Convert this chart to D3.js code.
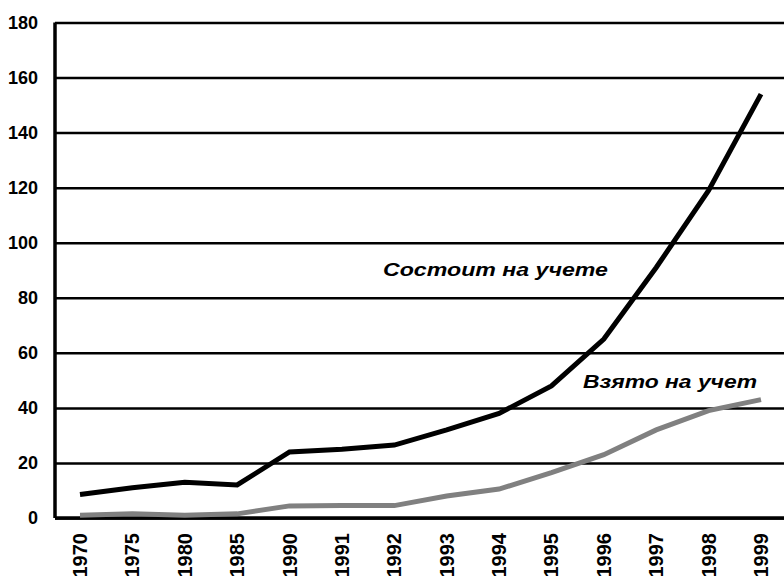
<!DOCTYPE html>
<html>
<head>
<meta charset="utf-8">
<script src="https://cdn.jsdelivr.net/npm/d3@7"></script>
<style>
  body { margin: 0; background: #fff; }
  svg { display: block; }
</style>
</head>
<body>
<div id="chart"></div>
<script>
var width  = 784;
var height = 576;

var years      = ["1970", "1975", "1980", "1985", "1990", "1991", "1992", "1993", "1994", "1995", "1996", "1997", "1998", "1999"];
var registered = [8.5, 11, 13, 12, 24, 25, 26.5, 32, 38, 48, 65, 91, 119, 154];
var taken      = [1, 1.5, 1, 1.5, 4.4, 4.5, 4.5, 8, 10.5, 16.5, 23, 32, 39, 43];
var yTicks     = [0, 20, 40, 60, 80, 100, 120, 140, 160, 180];
var seriesNames = ["Состоит на учете", "Взято на учет"];

var svg = d3.select("#chart").append("svg")
    .attr("width", width)
    .attr("height", height);

var x = d3.scalePoint().domain(years).range([80, 761]);
var y = d3.scaleLinear().domain([0, 180]).range([518, 22.5]);

// gridlines + y labels
var yAxis = d3.axisLeft(y)
    .tickValues(yTicks)
    .tickSize(-(width - 55))
    .tickPadding(17)
    .tickFormat(function(d) { return d; });

var gy = svg.append("g")
    .attr("transform", "translate(55,0)")
    .call(yAxis);
gy.select(".domain").remove();
gy.selectAll(".tick line")
  .attr("stroke", "#000")
  .attr("stroke-width", 2.5);
gy.selectAll(".tick text")
  .attr("fill", "#000")
  .style("font-family", "'Liberation Sans', Arial, sans-serif")
  .style("font-weight", "bold")
  .style("font-size", "18px");

// axes lines
svg.append("line")
   .attr("x1", 55).attr("x2", 55)
   .attr("y1", y(180)).attr("y2", y(0))
   .attr("stroke", "#000").attr("stroke-width", 3.5);
svg.append("line")
   .attr("x1", 55).attr("x2", width)
   .attr("y1", y(0)).attr("y2", y(0))
   .attr("stroke", "#000").attr("stroke-width", 3.5);

// x labels, rotated
svg.append("g").selectAll("text")
   .data(years)
   .enter()
   .append("text")
   .attr("transform", function(d) { return "translate(" + x(d) + ",533) rotate(-90)"; })
   .attr("dy", "0.35em")
   .attr("text-anchor", "end")
   .style("font-family", "'Liberation Sans', Arial, sans-serif")
   .style("font-weight", "bold")
   .style("font-size", "20px")
   .text(function(d) { return d; });

var line = d3.line()
    .x(function(d, i) { return x(years[i]); })
    .y(function(d) { return y(d); });

svg.append("path")
   .datum(taken)
   .attr("d", line)
   .attr("fill", "none")
   .attr("stroke", "#808080")
   .attr("stroke-width", 5);

svg.append("path")
   .datum(registered)
   .attr("d", line)
   .attr("fill", "none")
   .attr("stroke", "#000")
   .attr("stroke-width", 5);

// series labels
svg.append("text")
   .attr("x", 383).attr("y", 276)
   .attr("textLength", 225)
   .attr("lengthAdjust", "spacingAndGlyphs")
   .style("font-family", "'Liberation Sans', Arial, sans-serif")
   .style("font-weight", "bold")
   .style("font-style", "italic")
   .style("font-size", "18px")
   .text(seriesNames[0]);

svg.append("text")
   .attr("x", 583).attr("y", 388)
   .attr("textLength", 174)
   .attr("lengthAdjust", "spacingAndGlyphs")
   .style("font-family", "'Liberation Sans', Arial, sans-serif")
   .style("font-weight", "bold")
   .style("font-style", "italic")
   .style("font-size", "18px")
   .text(seriesNames[1]);
</script>
</body>
</html>
